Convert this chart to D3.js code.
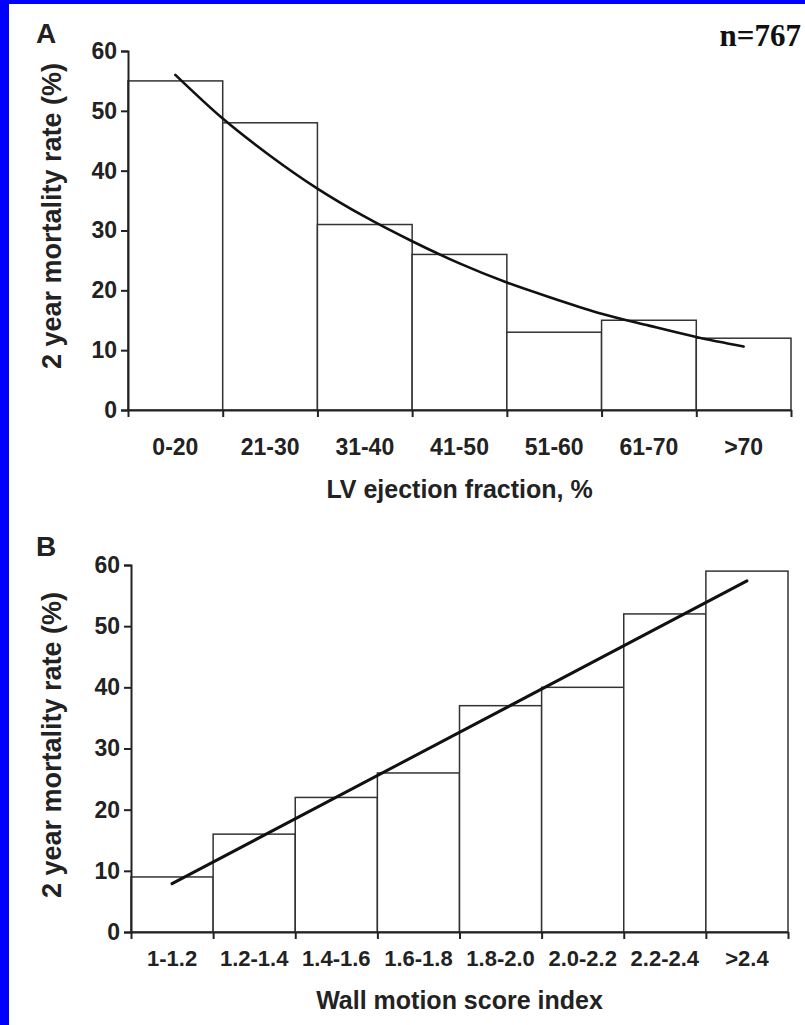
<!DOCTYPE html>
<html>
<head>
<meta charset="utf-8">
<script src="https://cdn.jsdelivr.net/npm/d3@7"></script>
<style>
  html, body { margin: 0; padding: 0; background: #fff; }
  svg { display: block; }
</style>
</head>
<body>
<svg id="chart" width="805" height="1025"></svg>
<script>
// ---- Data ----
const efCategories = ["0-20", "21-30", "31-40", "41-50", "51-60", "61-70", ">70"];
const efMortality = [55, 48, 31, 26, 13, 15, 12];
// fitted curve (x in category units, 0 = left edge)
const efCurveX = [0.5, 1, 1.5, 2, 2.5, 3, 3.5, 4, 4.5, 5, 5.5, 6, 6.5];
const efCurveY = [56, 48.7, 42.5, 37.0, 32.3, 28.2, 24.5, 21.3, 18.6, 16.1, 14.1, 12.2, 10.6];

const wmCategories = ["1-1.2", "1.2-1.4", "1.4-1.6", "1.6-1.8", "1.8-2.0", "2.0-2.2", "2.2-2.4", ">2.4"];
const wmMortality = [9, 16, 22, 26, 37, 40, 52, 59];
const wmLineX = [0.5, 7.5];
const wmLineY = [7.9, 57.4];

const yTicks = [0, 10, 20, 30, 40, 50, 60];

// ---- Drawing ----
const svg = d3.select("#chart");
const FONT = "'Liberation Sans', Arial, Helvetica, sans-serif";
const INK = "#222";

// blue frame
svg.append("rect").attr("x", 0).attr("y", 0).attr("width", 805).attr("height", 1025).attr("fill", "#0000fe");
svg.append("rect").attr("x", 9).attr("y", 4).attr("width", 796).attr("height", 1021).attr("fill", "#fff");

function panel(cfg) {
  const g = svg.append("g");
  const n = cfg.categories.length;
  const x = d3.scaleBand().domain(cfg.categories).range([cfg.x0, cfg.x1]).paddingInner(0).paddingOuter(0);
  const xi = d3.scaleLinear().domain([0, n]).range([cfg.x0, cfg.x1]);
  const y = d3.scaleLinear().domain([0, 60]).range([cfg.y0, cfg.y1]);

  // bars
  g.selectAll("rect.bar").data(cfg.values).enter().append("rect")
    .attr("class", "bar")
    .attr("x", (d, i) => x(cfg.categories[i]))
    .attr("y", d => y(d))
    .attr("width", x.bandwidth())
    .attr("height", d => y(0) - y(d))
    .attr("fill", "#fff")
    .attr("stroke", "#333")
    .attr("stroke-width", 1.5);

  // y axis
  const ya = g.append("g").attr("transform", `translate(${cfg.x0},0)`)
    .call(d3.axisLeft(y).tickValues(yTicks).tickSize(7).tickPadding(4).tickFormat(d3.format("d")));
  ya.select(".domain").attr("stroke", INK).attr("stroke-width", 2);
  ya.selectAll(".tick line").attr("stroke", INK).attr("stroke-width", 2);
  ya.selectAll(".tick text").attr("font-family", FONT).attr("font-weight", "bold")
    .attr("font-size", cfg.tickFont).attr("fill", INK);

  // x axis: boundary ticks
  const xa = g.append("g").attr("transform", `translate(0,${cfg.y0})`)
    .call(d3.axisBottom(xi).tickValues(d3.range(n + 1)).tickSize(7).tickSizeOuter(0).tickFormat(""));
  xa.select(".domain").attr("stroke", INK).attr("stroke-width", 2);
  xa.selectAll(".tick line").attr("stroke", INK).attr("stroke-width", 2);

  // x category labels
  const xl = g.append("g").attr("transform", `translate(0,${cfg.y0})`)
    .call(d3.axisBottom(x).tickSize(0).tickPadding(cfg.labelPad));
  xl.select(".domain").remove();
  xl.selectAll(".tick text").attr("font-family", FONT).attr("font-weight", "bold")
    .attr("font-size", cfg.labelFont).attr("fill", INK);

  // fit line
  const pts = cfg.lineX.map((v, i) => [v, cfg.lineY[i]]);
  g.append("path").datum(pts)
    .attr("d", d3.line().x(d => xi(d[0])).y(d => y(d[1])).curve(d3.curveMonotoneX))
    .attr("fill", "none").attr("stroke", "#111").attr("stroke-width", cfg.lineW)
    .attr("stroke-linecap", "round");

  // titles
  g.append("text").attr("x", (cfg.x0 + cfg.x1) / 2).attr("y", cfg.xTitleY)
    .attr("text-anchor", "middle").attr("font-family", FONT).attr("font-weight", "bold")
    .attr("font-size", cfg.titleFont).attr("fill", INK).text(cfg.xTitle);
  g.append("text").attr("transform", `translate(${cfg.yTitleX},${cfg.yTitleY}) rotate(-90)`)
    .attr("text-anchor", "middle").attr("font-family", FONT).attr("font-weight", "bold")
    .attr("font-size", cfg.yTitleFont).attr("fill", INK).text("2 year mortality rate (%)");
  g.append("text").attr("x", 36).attr("y", cfg.letterY)
    .attr("font-family", FONT).attr("font-weight", "bold").attr("font-size", 28)
    .attr("fill", INK).text(cfg.letter);
}

panel({
  categories: efCategories, values: efMortality, lineX: efCurveX, lineY: efCurveY,
  x0: 128, x1: 791, y0: 410, y1: 51, tickFont: 23, labelFont: 23, labelPad: 29,
  titleFont: 25, yTitleFont: 27, lineW: 2.6,
  xTitle: "LV ejection fraction, %", xTitleY: 498, yTitleX: 61, yTitleY: 216,
  letter: "A", letterY: 43
});

panel({
  categories: wmCategories, values: wmMortality, lineX: wmLineX, lineY: wmLineY,
  x0: 131, x1: 788, y0: 932, y1: 565, tickFont: 23, labelFont: 22, labelPad: 18,
  titleFont: 25, yTitleFont: 27, lineW: 3,
  xTitle: "Wall motion score index", xTitleY: 1009, yTitleX: 61, yTitleY: 745,
  letter: "B", letterY: 556
});

// sample size note
svg.append("text").attr("x", 801).attr("y", 46).attr("text-anchor", "end")
  .attr("font-family", "'Liberation Serif', 'Times New Roman', serif").attr("font-weight", "bold")
  .attr("font-size", 31).attr("fill", "#111").text("n=767");
</script>
</body>
</html>
